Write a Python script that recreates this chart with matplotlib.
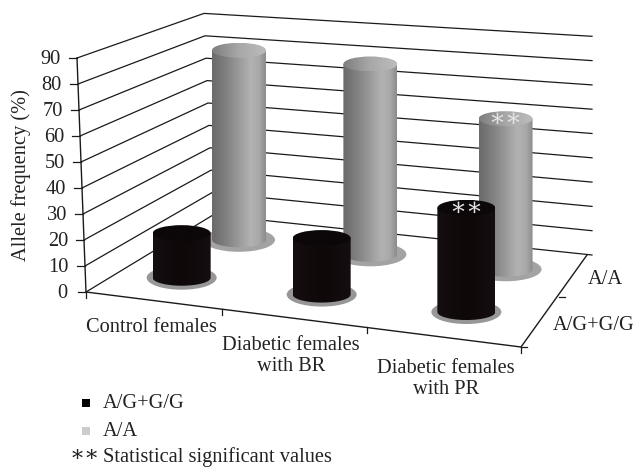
import numpy as np
import matplotlib
matplotlib.use("Agg")
import matplotlib.pyplot as plt
from matplotlib.colors import LinearSegmentedColormap
from matplotlib.patches import Ellipse, PathPatch
from matplotlib.path import Path

plt.rcParams['font.family'] = ['Liberation Serif', 'DejaVu Serif']

# data
categories = ['Control females', 'Diabetic females\nwith BR', 'Diabetic females\nwith PR']
series_names = ['A/G+G/G', 'A/A']
black_vals = [17.5, 21.5, 38.5]
gray_vals = [80, 78, 60]
yticks = [0, 10, 20, 30, 40, 50, 60, 70, 80, 90]

FS = 14.7

# floor corners in pixels: front-left, front-right, back-right, back-left
FL, FR, BR, BL = [np.array(c, float) for c in [(86, 292), (521, 347), (592, 255), (213, 215)]]
# pixels per value unit at each corner
HFL, HFR, HBR, HBL = 2.6, 2.85, 2.43, 2.24
LEAN = -0.1


def homography():
    src = [(0, 0), (1, 0), (1, 1), (0, 1)]
    dst = [FL, FR, BR, BL]
    A, b = [], []
    for (u, v), (x, y) in zip(src, dst):
        A.append([u, v, 1, 0, 0, 0, -u * x, -v * x])
        A.append([0, 0, 0, u, v, 1, -u * y, -v * y])
        b += [x, y]
    h = np.linalg.solve(np.array(A), np.array(b))
    return np.append(h, 1).reshape(3, 3)


H = homography()


def floor(u, v):
    p = H @ np.array([u, v, 1.0])
    return p[:2] / p[2]


def scale(u, v):
    return (HFL * (1 - u) + HFR * u) * (1 - v) + (HBL * (1 - u) + HBR * u) * v


def wall_pt(u, v, z):
    p = floor(u, v)
    lean = LEAN * (1 - u)
    return p[0] + lean * z, p[1] - scale(u, v) * z


fig = plt.figure(figsize=(6.36, 4.68), dpi=100)
ax = fig.add_axes([0, 0, 1, 1])
lc = '#1a1a1a'
lw = 0.9

for t in yticks:
    a = wall_pt(0, 0, t)
    b = wall_pt(0, 1, t)
    c = wall_pt(1, 1, t)
    ax.plot([a[0], b[0], c[0]], [a[1], b[1], c[1]], color=lc, lw=lw, zorder=1)
    ax.plot([a[0] - 8, a[0]], [a[1], a[1]], color=lc, lw=lw, zorder=1)
    ax.text(a[0] - 16 + (t == 0) * -3, a[1] + 1, str(t), ha='right', va='center', fontsize=FS, color='#222222')

# axes lines
top = wall_pt(0, 0, yticks[-1])
ax.plot([FL[0], top[0]], [FL[1], top[1]], color=lc, lw=1.0, zorder=1)
ax.plot([FL[0], FR[0], BR[0] - 5], [FL[1], FR[1], BR[1]], color=lc, lw=1.0, zorder=1)
for i in range(4):
    p = floor(i / 3, 0)
    ax.plot([p[0], p[0]], [p[1], p[1] + 6], color=lc, lw=lw, zorder=1)
for v in [0, 0.5]:
    p = floor(1, v)
    ax.plot([p[0], p[0] + 6], [p[1], p[1]], color=lc, lw=lw, zorder=1)

gray_cm = LinearSegmentedColormap.from_list('g', [(0, '#6a6a6a'), (0.25, '#808080'), (0.5, '#9a9a9a'),
                                                  (0.72, '#b2b2b2'), (0.88, '#a8a8a8'), (1, '#8c8c8c')])
gray_top = LinearSegmentedColormap.from_list('gt', ['#7e7e7e', '#a8a8a8', '#bcbcbc'])
black_cm = LinearSegmentedColormap.from_list('b', ['#150e10', '#0e0809', '#150e10'])
black_top = LinearSegmentedColormap.from_list('bt', ['#0c0708', '#0c0708'])
grad = np.linspace(0, 1, 128).reshape(1, -1)


def cylinder(x, y0, y1, rx, ry, body, lid, zo):
    verts = [(x - rx, y1), (x - rx, y0)]
    codes = [Path.MOVETO, Path.LINETO]
    th = np.linspace(np.pi, 0, 40)
    for a in th:
        verts.append((x + rx * np.cos(a), y0 + ry * np.sin(a)))
        codes.append(Path.LINETO)
    verts += [(x + rx, y1), (x - rx, y1)]
    codes += [Path.LINETO, Path.CLOSEPOLY]
    im = ax.imshow(grad, cmap=body, extent=(x - rx, x + rx, y0 + ry + 1, y1), aspect='auto', zorder=zo)
    im.set_clip_path(PathPatch(Path(verts, codes), transform=ax.transData))
    lid_patch = Ellipse((x, y1), 2 * rx, 2 * ry, transform=ax.transData)
    im2 = ax.imshow(grad, cmap=lid, extent=(x - rx, x + rx, y1 + ry, y1 - ry), aspect='auto', zorder=zo + 0.1)
    im2.set_clip_path(lid_patch)


ucenters = [0.155, 0.5, 0.835]
series = [(gray_vals, 0.73, 27, 7.5, 36, 12, '#a3a3a3', gray_cm, gray_top, 4),
          (black_vals, 0.25, 29, 8, 35, 12, '#979797', black_cm, black_top, 6)]
for vals, v, rx, ry, srx, sry, sc, body, lid, zo in series:
    for u, val in zip(ucenters, vals):
        x, y0 = floor(u, v)
        y1 = y0 - scale(u, v) * val
        ax.add_patch(Ellipse((x, y0), 2 * srx, 2 * sry, color=sc, lw=0, zorder=zo - 1))
        cylinder(x, y0, y1, rx, ry, body, lid, zo)
        if u == ucenters[-1]:
            ax.text(x, y1 + 1, '∗∗', color='#e4e4e4', ha='center', va='center', fontsize=18, zorder=zo + 1)

# labels
ax.text(21, 175, 'Allele frequency (%)', rotation=90, ha='center', va='center', fontsize=FS, color='#222222')
ax.text(151, 328, categories[0], ha='center', va='center', fontsize=FS, color='#222222')
ax.text(291, 356, categories[1], ha='center', va='center', fontsize=FS, color='#222222', linespacing=1.1)
ax.text(446, 379, categories[2], ha='center', va='center', fontsize=FS, color='#222222', linespacing=1.1)
ax.text(605, 279, series_names[1], ha='center', va='center', fontsize=FS, color='#222222')
ax.text(594, 326, series_names[0], ha='center', va='center', fontsize=FS, color='#222222')

# legend
ax.scatter([86], [403], marker='s', s=33, color='black', lw=0, zorder=3)
ax.scatter([86], [431], marker='s', s=33, color='#cccccc', lw=0, zorder=3)
ax.text(103, 404, series_names[0], va='center', fontsize=FS, color='#222222')
ax.text(103, 431, series_names[1], va='center', fontsize=FS, color='#222222')
ax.text(70, 456, '∗∗', va='center', fontsize=16, color='#222222')
ax.text(103, 457, 'Statistical significant values', va='center', fontsize=FS, color='#222222')

ax.set_xlim(0, 636)
ax.set_ylim(468, 0)
ax.axis('off')
fig.savefig('out.png', dpi=100)
